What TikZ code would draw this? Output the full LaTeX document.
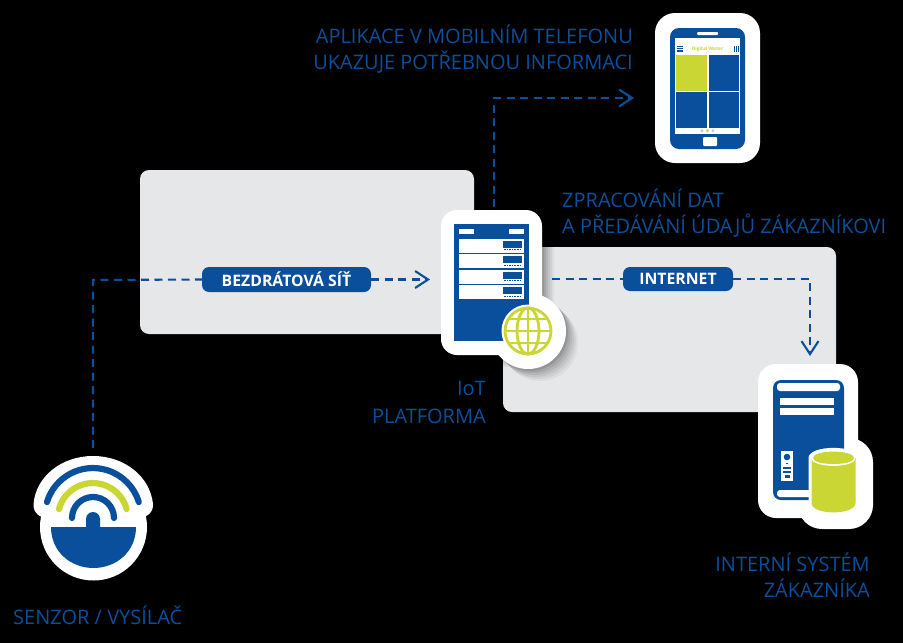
\documentclass[tikz,border=0pt]{standalone}
\usepackage{fontspec}
\setmainfont{Open Sans}
\usetikzlibrary{arrows.meta}
\definecolor{brand}{HTML}{0A4F9C}
\definecolor{lime}{HTML}{C9D634}
\definecolor{panel}{HTML}{E6E7E9}
\tikzset{
  panelbox/.style={fill=panel,rounded corners=9pt,draw=none},
  halo/.style={fill=white,draw=none},
  lbl/.style={text=brand,font=\fontsize{20}{26}\selectfont,inner sep=0pt},
  pill/.style={fill=brand,text=white,rounded corners=7pt,inner sep=0pt,font=\bfseries\fontsize{15.8}{18}\selectfont,anchor=center},
  flow/.style={draw=brand,line width=2.1pt,dash pattern=on 8pt off 5.5pt},
  tip/.style={-{Straight Barb[length=13pt,width=17pt,line width=2.1pt]}},
}
\begin{document}
\begin{tikzpicture}[x=1pt,y=-1pt]
\fill[black] (0,0) rectangle (903,643);
\useasboundingbox (0,0) rectangle (903,643);
% panels
\fill[panelbox] (140,170) rectangle (474,334);
\fill[panelbox] (503,247) rectangle (836,412);
% pills
\node[pill,minimum width=169pt,minimum height=25pt] (wireless) at (286.5,279.5) {BEZDRÁTOVÁ SÍŤ};
\node[pill,minimum width=110pt,minimum height=24pt] (internet) at (678,279) {INTERNET};
% connector anchors
\coordinate (sensorTop) at (93,448);
\coordinate (bendA) at (93,280);
\coordinate (serverIn) at (430,279.5);
\coordinate (serverTop) at (494,207);
\coordinate (bendB) at (494,98);
\coordinate (phoneIn) at (634,98);
\coordinate (serverOut) at (552,279);
\coordinate (bendC) at (810,279);
\coordinate (pcIn) at (810,356);
% connectors
\draw[flow] (sensorTop) -- (bendA) -- (wireless.west);
\draw[flow,tip] (wireless.east) -- (serverIn);
\draw[flow,tip] (serverTop) -- (bendB) -- (phoneIn);
\draw[flow] (serverOut) -- (internet.west);
\draw[flow,tip] (internet.east) -- (bendC) -- (pcIn);
% phone
\fill[halo,rounded corners=20pt] (655,13) rectangle (760,163);
\fill[brand,rounded corners=9pt] (670,28) rectangle (745,149);
\fill[white] (675,38) rectangle (740,134);
\fill[lime] (676,54.5) rectangle (707,90.5);
\fill[brand] (708.5,54.5) rectangle (739,90.5);
\fill[brand] (676,92) rectangle (707,128);
\fill[brand] (708.5,92) rectangle (739,128);
\fill[white,rounded corners=1pt] (697,32) rectangle (718,35);
\fill[white,rounded corners=1pt] (703,137) rectangle (717,146);
\node[text=lime,font=\bfseries\fontsize{4.8}{5}\selectfont,inner sep=0pt] (appTitle) at (707.5,49) {Digital Water};
\foreach \y in {46,48.2,50.4}{\fill[brand] (676.5,\y) rectangle (683,\y+1.1);}
\foreach \x in {733.5,736,738.2}{\fill[brand] (\x,45.5) rectangle (\x+1,52);}
\fill[brand!35!black!25!white] (702,130.8) circle (1.6);
\fill[lime] (707.5,130.8) circle (1.6);
\fill[brand!35!black!25!white] (713,130.8) circle (1.6);
% server
\foreach \o/\a in {12/.04,10/.05,8/.06,6/.07,4/.08,2/.1}{
  \fill[black,opacity=\a,rounded corners=16pt] (441+\o,210+\o) rectangle (542+\o,355+\o);
  \fill[black,opacity=\a] (528+\o,331+\o) circle (38);
}
\fill[halo,rounded corners=16pt] (441,210) rectangle (542,355);
\fill[halo] (528,331) circle (38);
\fill[brand] (454,224) rectangle (529,341);
\fill[white] (459,229) rectangle (474,234);
\fill[white] (509,229) rectangle (524,234);
\foreach \y in {238.5,254,269.5,285}{
  \fill[white] (459,\y) rectangle (524,\y+14.2);
  \fill[brand] (503,\y+2) rectangle (522,\y+9);
  \draw[brand,line width=1.2pt,dash pattern=on 1.5pt off 1.1pt] (504,\y+11.3) -- (522,\y+11.3);
}
\fill[white] (528,331) circle (26.5);
\begin{scope}[draw=lime,line width=2.8pt]
\draw (528,331) circle (23);
\draw (528,331) ellipse (11 and 23);
\draw (528,308) -- (528,354);
\draw (505,331) -- (551,331);
\draw (509,319) -- (547,319);
\draw (509,343) -- (547,343);
\end{scope}
% computer
\fill[black,opacity=.08,rounded corners=18pt] (762,368) rectangle (862,522);
\fill[halo,rounded corners=18pt] (758,364) rectangle (858,518);
\fill[halo,rounded corners=24pt] (798,438) rectangle (873,529);
\fill[brand,rounded corners=8pt] (773,380) rectangle (844,500);
\fill[white,rounded corners=3pt] (777,383) rectangle (840,391);
\fill[white,rounded corners=3pt] (777,490) rectangle (840,497);
\fill[white] (780,398) rectangle (834,405);
\fill[white] (780,408) rectangle (834,415);
\fill[white] (781,451) rectangle (793,481);
\fill[brand] (787,457) circle (3.3);
\fill[brand] (786.3,462.5) rectangle (787.7,464);
\fill[brand] (783,467) rectangle (791,469);
\fill[brand] (783,471) rectangle (791,473);
\fill[brand] (784.5,475) rectangle (789.5,478);
\fill[white] (808.5,458) .. controls (808.5,444.5) and (858.5,444.5) .. (858.5,458) -- (858.5,504) .. controls (858.5,518) and (808.5,518) .. (808.5,504) -- cycle;
\fill[lime] (811.5,458) -- (811.5,503) .. controls (811.5,515.5) and (855.5,515.5) .. (855.5,503) -- (855.5,458) -- cycle;
\fill[white] (811.5,458) .. controls (811.5,447.5) and (855.5,447.5) .. (855.5,458) .. controls (855.5,468.5) and (811.5,468.5) .. (811.5,458) -- cycle;
\fill[lime] (813,458) .. controls (813,449.5) and (854,449.5) .. (854,458) .. controls (854,466) and (813,466) .. (813,458) -- cycle;
% sensor
\fill[halo] (33.5,504) .. controls (36,476) and (62,456) .. (93,456) .. controls (124,456) and (150,476) .. (153,504) .. controls (153.5,513) and (146,518) .. (138,518) -- (48,518) .. controls (40,518) and (33,513) .. (33.5,504) -- cycle;
\fill[halo] (93.5,527) circle (53.5);
\draw[brand,line width=6.2pt,line cap=round] (47,502) arc[start angle=197,end angle=343,radius=48];
\draw[lime,line width=6.2pt,line cap=round] (59,509) arc[start angle=195,end angle=345,radius=35];
\draw[brand,line width=6.2pt,line cap=round] (72,518) arc[start angle=180,end angle=360,radius=21];
\fill[white] (83,510) rectangle (104,530);
\fill[brand] (51,527) -- (86,527) -- (86,519) arc[start angle=180,end angle=360,radius=7] -- (100,527) -- (136,527) .. controls (136,552) and (116,568) .. (93.5,568) .. controls (71,568) and (51,552) .. (51,527) -- cycle;
% labels
\node[lbl,align=right,anchor=north east] (lblApp) at (633,24.5) {APLIKACE V MOBILNÍM TELEFONU\\UKAZUJE POTŘEBNOU INFORMACI};
\node[lbl,align=left,anchor=north west] (lblData) at (562,189) {ZPRACOVÁNÍ DAT\\A PŘEDÁVÁNÍ ÚDAJŮ ZÁKAZNÍKOVI};
\node[lbl,align=right,anchor=north east,font=\fontsize{20}{28}\selectfont] (lblIot) at (486,381) {IoT\\PLATFORMA};
\node[lbl,align=right,anchor=north east] (lblSys) at (870,553) {INTERNÍ SYSTÉM\\ZÁKAZNÍKA};
\node[lbl,anchor=north west] (lblSensor) at (13,606) {SENZOR / VYSÍLAČ};
\end{tikzpicture}
\end{document}
